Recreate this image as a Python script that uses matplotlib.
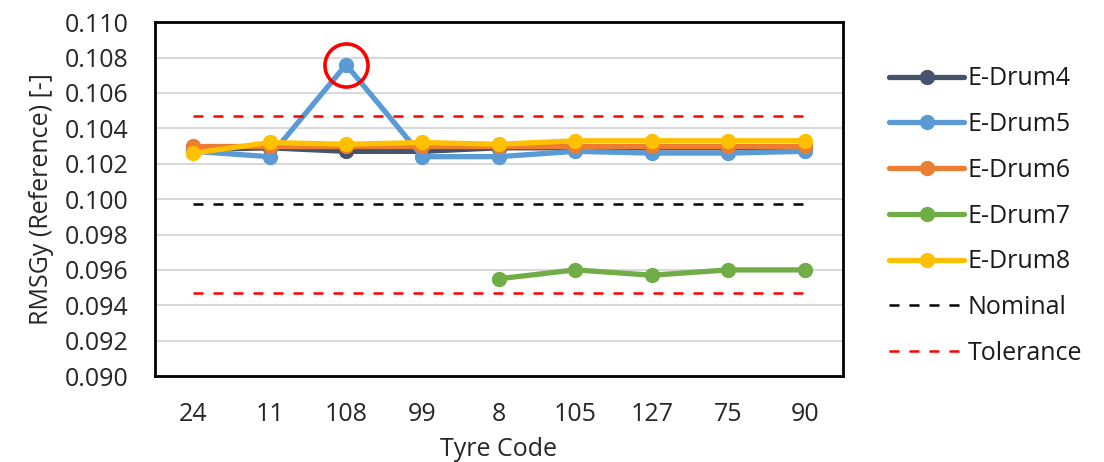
import matplotlib
matplotlib.use('Agg')
import matplotlib.pyplot as plt

plt.rcParams['font.family'] = ['Open Sans', 'DejaVu Sans']

tyres = ['24', '11', '108', '99', '8', '105', '127', '75', '90']
drum4 = [0.1028, 0.1029, 0.1027, 0.1027, 0.1029, 0.1029, 0.1029, 0.1029, 0.1029]
drum5 = [0.1027, 0.1024, 0.1076, 0.1024, 0.1024, 0.1027, 0.1026, 0.1026, 0.1027]
drum6 = [0.1030, 0.1030, 0.1030, 0.1030, 0.1030, 0.1030, 0.1030, 0.1030, 0.1030]
drum7 = [None, None, None, None, 0.0955, 0.0960, 0.0957, 0.0960, 0.0960]
drum8 = [0.1026, 0.1032, 0.1031, 0.1032, 0.1031, 0.1033, 0.1033, 0.1033, 0.1033]
nominal = 0.0997
tol_lo = 0.0947
tol_hi = 0.1047
highlight = '108'

series = [
    ('E-Drum4', drum4, '#44546a'),
    ('E-Drum5', drum5, '#5b9bd5'),
    ('E-Drum6', drum6, '#ed7d31'),
    ('E-Drum7', drum7, '#70ad47'),
    ('E-Drum8', drum8, '#ffc000'),
]

fig = plt.figure(figsize=(11.04, 4.62), dpi=100)
ax = fig.add_axes([0.1404, 0.186, 0.623, 0.766])

x = list(range(len(tyres)))
for name, vals, col in series:
    xs = [i for i, v in zip(x, vals) if v is not None]
    ys = [v for v in vals if v is not None]
    ax.plot(xs, ys, color=col, lw=3.8, marker='o', ms=10, label=name,
            solid_capstyle='round')

ax.plot([x[0], x[-1]], [nominal] * 2, color='black', lw=1.8, ls=(0, (4, 4)), label='Nominal')
ax.plot([x[0], x[-1]], [tol_hi] * 2, color='#ff0000', lw=1.8, ls=(0, (4, 4)), label='Tolerance')
ax.plot([x[0], x[-1]], [tol_lo] * 2, color='#ff0000', lw=1.8, ls=(0, (4, 4)))

hi = tyres.index(highlight)
ax.plot([hi], [drum5[hi]], marker='o', ms=31, mfc='none', mec='#ff0000', mew=2.6, ls='none')

ax.set_xlim(-0.5, len(tyres) - 0.5)
ax.set_ylim(0.090, 0.110)
ax.set_yticks([0.090 + 0.002 * i for i in range(11)])
ax.set_yticklabels(['%.3f' % (0.090 + 0.002 * i) for i in range(11)])
ax.set_xticks(x)
ax.set_xticklabels(tyres)
ax.grid(axis='y', color='#d9d9d9', lw=1.5)
ax.set_axisbelow(True)
ax.tick_params(length=0, labelsize=18, colors='#262626')
ax.tick_params(axis='y', pad=19)
ax.tick_params(axis='x', pad=19)
for s in ax.spines.values():
    s.set_color('black')
    s.set_linewidth(2)

ax.set_ylabel('RMSGy (Reference) [-]', fontsize=18, color='#262626', labelpad=8)
ax.set_xlabel('Tyre Code', fontsize=18, color='#262626', labelpad=7)

fig.legend(loc='upper left', bbox_to_anchor=(0.785, 0.905), frameon=False,
           fontsize=18, handlelength=3.0, handletextpad=0.15, labelspacing=0.83,
           numpoints=1, labelcolor='#1a1a1a')

fig.savefig('out.png', dpi=100)
